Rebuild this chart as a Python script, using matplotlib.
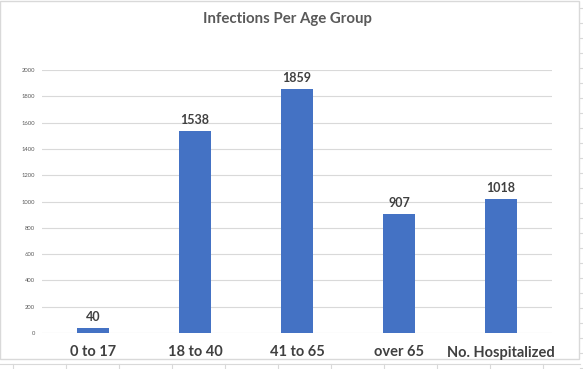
import matplotlib.pyplot as plt
from matplotlib.lines import Line2D
from matplotlib.patches import Rectangle

groups = ["0 to 17", "18 to 40", "41 to 65", "over 65", "No. Hospitalized"]
infections = [40, 1538, 1859, 907, 1018]
yticks = [0, 200, 400, 600, 800, 1000, 1200, 1400, 1600, 1800, 2000]

bar_color = "#4472C4"
text_color = "#404040"
grid_color = "#D9D9D9"

plt.rcParams["font.family"] = ["Lato", "DejaVu Sans"]

W, H = 583, 369
fig = plt.figure(figsize=(W / 100, H / 100), dpi=100)

# spreadsheet cells around the chart object
for y in range(8, H, 15):
    fig.add_artist(Line2D([580 / W, 1], [1 - y / H] * 2, color=grid_color, lw=0.8, zorder=-3))
fig.add_artist(Line2D([0, 580 / W], [1 - 364 / H] * 2, color=grid_color, lw=0.8, zorder=-3))
for x in range(13, 580, 53):
    fig.add_artist(Line2D([x / W] * 2, [0, 1 - 364 / H], color=grid_color, lw=0.8, zorder=-3))
fig.add_artist(Rectangle((0, 1 - 359 / H), 579 / W, 358 / H, transform=fig.transFigure,
                         facecolor="white", edgecolor=grid_color, lw=1.0, zorder=-2))

ax = fig.add_axes([42 / W, 1 - 333 / H, 510 / W, 263 / H])
ax.set_facecolor("none")
x = range(len(groups))
bars = ax.bar(x, infections, width=0.314, color=bar_color, zorder=3)

ax.set_xlim(-0.5, len(groups) - 0.5)
ax.set_ylim(0, 2000)
ax.set_yticks(yticks)
ax.set_yticklabels([str(v) for v in yticks])
ax.set_xticks(list(x))
ax.set_xticklabels(groups, fontsize=10.5, fontweight="bold", color=text_color)
ax.tick_params(axis="y", length=0, labelsize=4.2, labelcolor="#595959", pad=5)
ax.tick_params(axis="x", length=0, pad=9)
ax.grid(axis="y", color=grid_color, lw=0.8, zorder=0)
for s in ax.spines.values():
    s.set_visible(False)

for b, v in zip(bars, infections):
    ax.annotate(str(v), (b.get_x() + b.get_width() / 2, v), xytext=(0, 3.5),
                textcoords="offset points", ha="center", va="bottom",
                fontsize=9, fontweight="bold", color=text_color, annotation_clip=False)

fig.text(287 / W, 1 - 19 / H, "Infections Per Age Group", ha="center", va="center",
         fontsize=10.8, fontweight="bold", color="#595959")

fig.savefig("out.png", dpi=100)
